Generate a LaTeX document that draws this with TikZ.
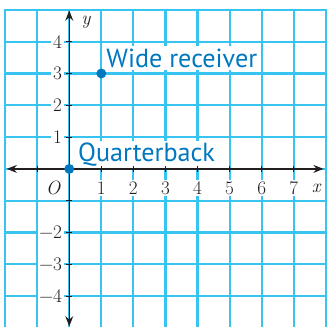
\documentclass[tikz,border=0pt]{standalone}
\usepackage{fontspec}
\newfontfamily\lblfont{PT Sans}
\usetikzlibrary{arrows.meta}
\definecolor{gridc}{HTML}{38C4F0}
\definecolor{ptc}{HTML}{0078C0}
\definecolor{axc}{HTML}{231F20}
\tikzset{
  gridbar/.style={fill=gridc, draw=none},
  axis/.style={draw=axc, line width=1.2pt, {Stealth[length=9pt,width=7pt]}-{Stealth[length=9pt,width=7pt]}},
  tick/.style={draw=axc, line width=1pt},
  num/.style={fill=white, inner sep=1.5pt, text=axc, font=\fontsize{17}{19}\selectfont},
  pt/.style={fill=ptc, draw=none},
  ptlabel/.style={fill=white, inner xsep=2pt, inner ysep=2pt, text=ptc, font=\lblfont\fontsize{23.2}{25}\selectfont, anchor=base west}
}
\begin{document}
\begin{tikzpicture}[x=1cm,y=0.992cm]
\fill[white] (-2.16,-4.97) rectangle (8.01,5.31);
\useasboundingbox (-2.16,-4.97) rectangle (8.01,5.31);
% grid as thin filled bars
\foreach \i in {-2,...,8} \fill[gridbar] (\i-0.034,-5.5) rectangle (\i+0.034,5.034);
\foreach \j in {-4,...,5} \fill[gridbar] (-2.034,\j-0.034) rectangle (8.034,\j+0.034);
% labels with white background
\foreach \k in {1,2,3,4} \node[num, anchor=east] (yl\k) at (-0.17,\k) {\k};
\foreach \k in {2,3,4} \node[num, anchor=east] (yn\k) at (-0.17,-\k) {−\k};
\foreach \k in {1,...,7} \node[num] (xl\k) at (\k,-0.6) {\k};
\node[num] (O) at (-0.5,-0.6) {\textit{O}};
\node[num] (xlab) at (7.72,-0.6) {\textit{x}};
\node[num] (ylab) at (0.53,4.6) {\textit{y}};
% point labels
\node[ptlabel] (wrl) at (1.08,3.2) {Wide receiver};
\node[ptlabel] (qbl) at (0.2,0.22) {Quarterback};
% axes
\coordinate (xl) at (-1.95,0);
\coordinate (xr) at (7.93,0);
\coordinate (yt) at (0,4.98);
\coordinate (yb) at (0,-4.95);
\draw[axis] (xl) -- (xr);
\draw[axis] (yb) -- (yt);
\foreach \k in {-1,1,2,3,4,5,6,7} \draw[tick] (\k,-0.09) -- (\k,0.09);
\foreach \k in {-4,-3,-2,-1,1,2,3,4} \draw[tick] (-0.09,\k) -- (0.09,\k);
% points
\fill[pt] (0,0) circle (0.155) coordinate (qb);
\fill[pt] (1,3) circle (0.155) coordinate (wr);
\end{tikzpicture}
\end{document}
